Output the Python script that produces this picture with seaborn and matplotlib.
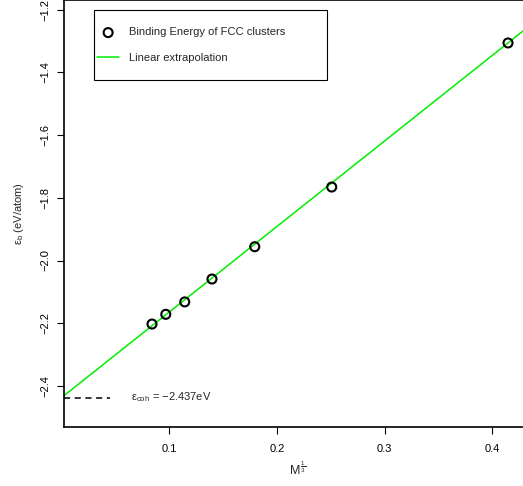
import numpy as np
import pandas as pd
import seaborn as sns
import matplotlib.pyplot as plt
from matplotlib.patches import Rectangle

# data
inv_cbrt_size = [0.0839, 0.0967, 0.1143, 0.1396, 0.1793, 0.2508, 0.4145]
binding_energy = [-2.2026, -2.1716, -2.132, -2.059, -1.956, -1.7656, -1.306]
e_coh = -2.437
slope = 2.729

sns.set_theme(style="ticks")
plt.rcParams['font.family'] = ['Liberation Sans', 'DejaVu Sans']
plt.rcParams['mathtext.fontset'] = 'custom'
plt.rcParams['mathtext.rm'] = 'Liberation Sans'
plt.rcParams['mathtext.it'] = 'Liberation Sans'

fig = plt.figure(figsize=(5.23, 4.86), dpi=100)
ax = fig.add_axes([0.1224, 0.1214, 0.8776, 0.8786])

xlim = (0.0022, 0.4284)
ylim = (-2.531, -1.169)

df = pd.DataFrame({"x": inv_cbrt_size, "y": binding_energy})
fit_x = np.array(xlim)
fit = pd.DataFrame({"x": fit_x, "y": e_coh + slope * fit_x})

sns.lineplot(data=fit, x="x", y="y", color="#00ee00", lw=1.1, ax=ax,
             label="Linear extrapolation")
sns.scatterplot(data=df, x="x", y="y", ax=ax, s=42, facecolor="none",
                edgecolor="black", linewidth=1.5, marker="o",
                label="Binding Energy of FCC clusters", zorder=3)

ax.plot([xlim[0], 0.045], [e_coh, e_coh], color="black", ls=(0, (4, 3)), lw=1.1)
ax.text(0.064, e_coh, r"$\mathregular{\varepsilon_{coh}}$ = " + "\u22122.437eV",
        fontsize=8, va="center", ha="left")

ax.set_xlim(*xlim)
ax.set_ylim(*ylim)
ax.set_xticks([0.1, 0.2, 0.3, 0.4])
ax.set_yticks([-2.4, -2.2, -2.0, -1.8, -1.6, -1.4, -1.2])
ax.set_yticklabels(["\u22122.4", "\u22122.2", "\u22122.0", "\u22121.8",
                    "\u22121.6", "\u22121.4", "\u22121.2"],
                   rotation=90, va="center")
ax.tick_params(labelsize=8, length=5, width=0.8, colors="black")
ax.tick_params(axis="x", pad=7)
ax.tick_params(axis="y", pad=5)
ax.set_xlabel(r"$\mathregular{M}^{\,\frac{1}{3}}$", fontsize=9)
ax.set_ylabel(r"$\mathregular{\varepsilon_b}$ (eV/atom)", fontsize=8, labelpad=10)
ax.xaxis.set_label_coords(0.508, -0.08)
for side in ["left", "bottom", "top"]:
    ax.spines[side].set_color("black")
    ax.spines[side].set_linewidth(1.2)
ax.spines["right"].set_visible(False)

# legend box drawn separately, R-style padding
ax.add_patch(Rectangle((0.0654, 0.8126), 0.5076, 0.164, transform=ax.transAxes,
                       facecolor="white", edgecolor="black", lw=0.8, zorder=4))
handles, labels = ax.get_legend_handles_labels()
leg = ax.legend(handles[::-1], labels[::-1], loc="upper left",
                bbox_to_anchor=(0.0719, 0.9356), fontsize=8, frameon=False,
                borderpad=0, borderaxespad=0, labelspacing=1.4,
                handlelength=2.0, handletextpad=0.9)
leg.set_zorder(5)

fig.savefig("out.png", dpi=100)
